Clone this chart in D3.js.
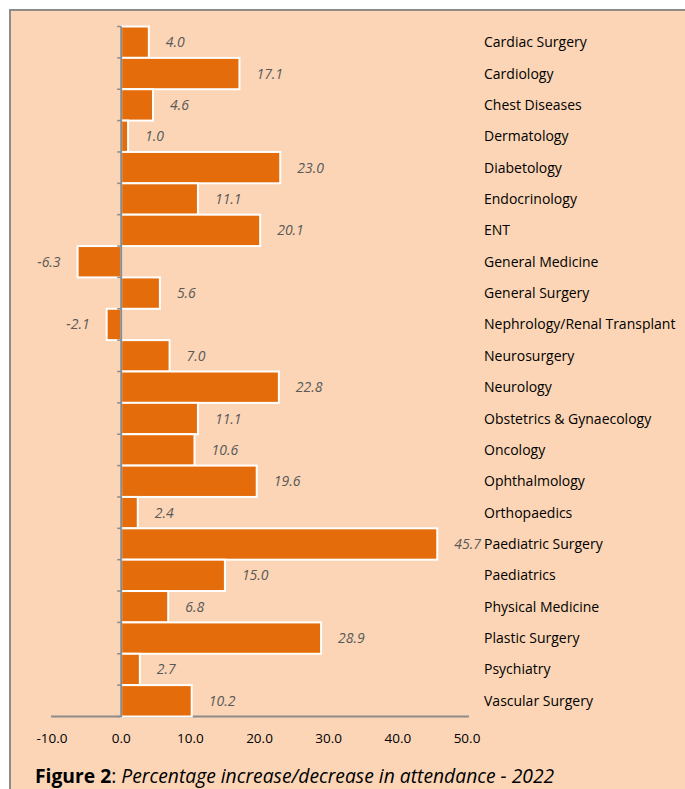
<!DOCTYPE html>
<html>
<head>
<meta charset="utf-8">
<script src="https://cdn.jsdelivr.net/npm/d3@7"></script>
<style>
  html, body { margin: 0; padding: 0; background: #fff; }
  svg { display: block; }
</style>
</head>
<body>
<svg id="chart" width="685" height="789"></svg>
<script>
const categories = [
  "Cardiac Surgery", "Cardiology", "Chest Diseases", "Dermatology", "Diabetology",
  "Endocrinology", "ENT", "General Medicine", "General Surgery",
  "Nephrology/Renal Transplant", "Neurosurgery", "Neurology",
  "Obstetrics & Gynaecology", "Oncology", "Ophthalmology", "Orthopaedics",
  "Paediatric Surgery", "Paediatrics", "Physical Medicine", "Plastic Surgery",
  "Psychiatry", "Vascular Surgery"
];
const values = [
  4.0, 17.1, 4.6, 1.0, 23.0, 11.1, 20.1, -6.3, 5.6, -2.1, 7.0, 22.8,
  11.1, 10.6, 19.6, 2.4, 45.7, 15.0, 6.8, 28.9, 2.7, 10.2
];
const xTicks = [-10, 0, 10, 20, 30, 40, 50];

const data = categories.map((name, i) => ({ name, value: values[i] }));
const fmt = v => d3.format(".1f")(v).replace("\u2212", "-");
const FONT = "'Open Sans', sans-serif";

const svg = d3.select("#chart");

// frame
svg.append("rect")
  .attr("x", 10).attr("y", 10)
  .attr("width", 700).attr("height", 800)
  .attr("fill", "#FBD5B5")
  .attr("stroke", "#8c8c8c")
  .attr("stroke-width", 2);

const x = d3.scaleLinear().domain([-10, 50]).range([52, 467]);
const y = d3.scaleBand().domain(categories).range([26.5, 716.5]).padding(0);

// x axis line
svg.append("line")
  .attr("x1", 51).attr("x2", 469)
  .attr("y1", 716.5).attr("y2", 716.5)
  .attr("stroke", "#8c8c8c").attr("stroke-width", 2);

svg.selectAll(".xtick")
  .data(xTicks)
  .join("text")
  .attr("class", "xtick")
  .attr("x", d => x(d))
  .attr("y", 743)
  .attr("text-anchor", "middle")
  .attr("font-family", FONT)
  .attr("font-size", "13.5px")
  .attr("fill", "#000")
  .text(fmt);

// bars
svg.selectAll(".bar")
  .data(data)
  .join("rect")
  .attr("class", "bar")
  .attr("x", d => x(Math.min(0, d.value)))
  .attr("y", d => y(d.name))
  .attr("width", d => Math.abs(x(d.value) - x(0)))
  .attr("height", y.bandwidth())
  .attr("fill", "#E46C0A")
  .attr("stroke", "#fff")
  .attr("stroke-width", 2);

// y axis
const yAxis = svg.append("g").attr("class", "y-axis");
yAxis.append("line")
  .attr("x1", x(0)).attr("x2", x(0))
  .attr("y1", y.range()[0]).attr("y2", 717)
  .attr("stroke", "#8c8c8c").attr("stroke-width", 2);
yAxis.selectAll(".ytick")
  .data(categories.concat(["end"]))
  .join("line")
  .attr("class", "ytick")
  .attr("x1", x(0) - 4).attr("x2", x(0))
  .attr("y1", (d, i) => y.range()[0] + i * y.step())
  .attr("y2", (d, i) => y.range()[0] + i * y.step())
  .attr("stroke", "#8c8c8c").attr("stroke-width", 1.5);

// value labels
svg.selectAll(".vlabel")
  .data(data)
  .join("text")
  .attr("class", "vlabel")
  .attr("x", d => d.value >= 0 ? x(d.value) + 17 : x(d.value) - 17)
  .attr("y", d => y(d.name) + y.bandwidth() / 2 + 5)
  .attr("text-anchor", d => d.value >= 0 ? "start" : "end")
  .attr("font-family", FONT)
  .attr("font-style", "italic")
  .attr("font-size", "14px")
  .attr("fill", "#595959")
  .text(d => fmt(d.value));

// category labels
svg.selectAll(".clabel")
  .data(data)
  .join("text")
  .attr("class", "clabel")
  .attr("x", 484)
  .attr("y", d => y(d.name) + y.bandwidth() / 2 + 5)
  .attr("font-family", FONT)
  .attr("font-size", "14px")
  .attr("fill", "#000")
  .text(d => d.name);

// caption
const cap = svg.append("text")
  .attr("x", 35).attr("y", 783)
  .attr("font-family", FONT)
  .attr("font-size", "19.3px")
  .attr("fill", "#000");
cap.append("tspan").attr("font-weight", "bold").text("Figure 2");
cap.append("tspan").text(": ");
cap.append("tspan").attr("font-style", "italic").text("Percentage increase/decrease in attendance - 2022");
</script>
</body>
</html>
